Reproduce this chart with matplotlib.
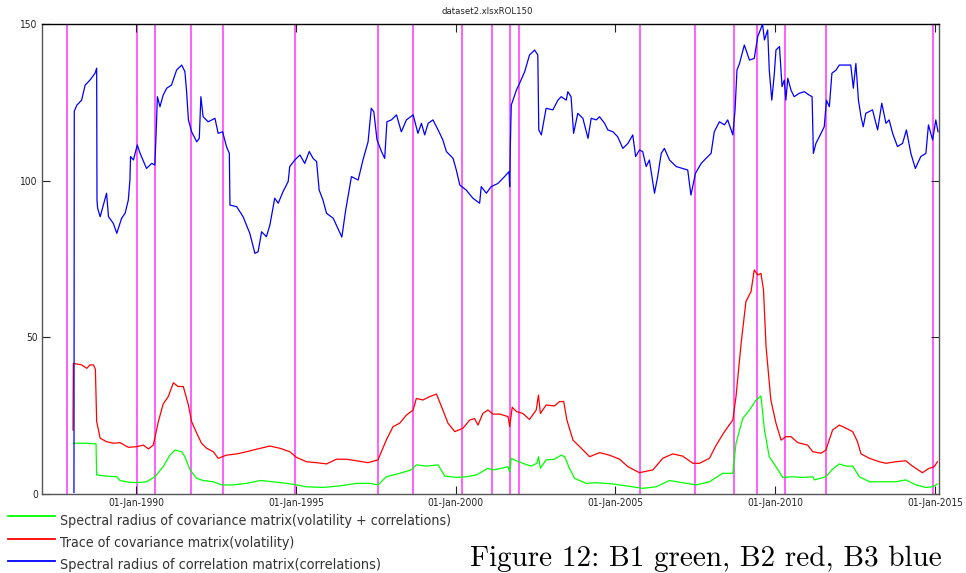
import matplotlib
matplotlib.use("Agg")
import matplotlib.pyplot as plt
from matplotlib import font_manager as fm

# ---------------- data (decimal years, values) ----------------
green_t = [1988.04, 1988.15, 1988.46, 1988.75, 1988.77, 1989.08, 1989.40, 1989.50, 1989.81,
           1990.13, 1990.33, 1990.59, 1990.85, 1991.06, 1991.22, 1991.43, 1991.53, 1991.69,
           1991.90, 1992.10, 1992.42, 1992.68, 1993.04, 1993.46, 1993.88, 1994.29, 1994.71,
           1995.02, 1995.33, 1995.85, 1996.38, 1996.90, 1997.31, 1997.57, 1997.83, 1998.25,
           1998.61, 1998.77, 1999.08, 1999.45, 1999.66, 2000.02, 2000.33, 2000.65, 2001.01,
           2001.17, 2001.43, 2001.64, 2001.69, 2001.74, 2001.90, 2002.10, 2002.36, 2002.54,
           2002.59, 2002.65, 2002.83, 2003.09, 2003.30, 2003.41, 2003.56, 2003.72, 2004.08,
           2004.40, 2004.92, 2005.33, 2005.85, 2006.27, 2006.69, 2007.10, 2007.52, 2007.94,
           2008.35, 2008.67, 2008.77, 2008.98, 2009.19, 2009.40, 2009.55, 2009.66, 2009.81,
           2010.02, 2010.23, 2010.54, 2010.85, 2011.17, 2011.22, 2011.58, 2011.79, 2012.00,
           2012.21, 2012.42, 2012.63, 2012.94, 2013.35, 2013.77, 2014.08, 2014.40, 2014.71,
           2014.92, 2015.07]
green_v = [16.2, 16.2, 16.2, 16.0, 6.1, 5.7, 5.5, 4.3, 3.7,
           3.7, 3.9, 5.5, 8.7, 12.4, 14.0, 13.5, 11.9, 7.7,
           5.0, 4.3, 3.9, 2.9, 2.9, 3.4, 4.3, 3.9, 3.4,
           2.9, 2.3, 2.1, 2.6, 3.4, 3.4, 2.9, 5.5, 6.6,
           7.7, 9.3, 8.9, 9.3, 5.7, 5.3, 5.5, 6.1, 8.2,
           7.7, 8.2, 8.7, 7.1, 11.4, 10.6, 9.8, 8.9, 9.8,
           11.9, 8.2, 10.9, 11.1, 12.4, 11.9, 8.2, 5.0, 3.4,
           3.6, 3.2, 2.6, 1.8, 2.3, 4.3, 3.6, 2.9, 3.9,
           6.6, 6.6, 16.2, 24.1, 26.8, 30.0, 31.3, 20.4, 11.9,
           8.7, 5.3, 5.5, 5.3, 5.5, 4.5, 5.5, 7.9, 9.6,
           8.9, 8.9, 5.5, 3.9, 3.9, 3.9, 4.5, 2.9, 2.1,
           2.3, 3.2]

red_t = [1988.03, 1988.04, 1988.15, 1988.30, 1988.46, 1988.56, 1988.67, 1988.73, 1988.77,
         1988.88, 1989.08, 1989.29, 1989.50, 1989.76, 1990.02, 1990.23, 1990.39, 1990.54,
         1990.70, 1990.85, 1991.01, 1991.17, 1991.32, 1991.48, 1991.64, 1991.74, 1991.90,
         1992.05, 1992.21, 1992.42, 1992.57, 1992.83, 1993.15, 1993.46, 1993.77, 1994.19,
         1994.50, 1994.81, 1995.02, 1995.33, 1995.65, 1995.96, 1996.27, 1996.58, 1996.90,
         1997.26, 1997.57, 1997.83, 1998.04, 1998.25, 1998.46, 1998.67, 1998.77, 1998.98,
         1999.19, 1999.40, 1999.60, 1999.76, 1999.97, 2000.23, 2000.44, 2000.59, 2000.70,
         2000.85, 2001.01, 2001.17, 2001.38, 2001.64, 2001.69, 2001.77, 2001.90, 2002.10,
         2002.31, 2002.52, 2002.59, 2002.65, 2002.83, 2003.09, 2003.25, 2003.38, 2003.48,
         2003.67, 2003.93, 2004.19, 2004.50, 2004.81, 2005.13, 2005.39, 2005.75, 2006.17,
         2006.48, 2006.79, 2007.10, 2007.42, 2007.63, 2007.94, 2008.15, 2008.41, 2008.67,
         2008.77, 2008.93, 2009.08, 2009.24, 2009.34, 2009.45, 2009.55, 2009.63, 2009.71,
         2009.86, 2010.02, 2010.18, 2010.33, 2010.49, 2010.70, 2011.01, 2011.17, 2011.43,
         2011.58, 2011.79, 2012.00, 2012.21, 2012.42, 2012.57, 2012.68, 2012.94, 2013.25,
         2013.46, 2013.77, 2014.08, 2014.29, 2014.60, 2014.81, 2014.97, 2015.07]
red_v = [20.4, 41.7, 41.5, 41.2, 40.1, 41.2, 41.2, 39.8, 23.1,
         17.8, 16.7, 16.2, 16.4, 14.9, 15.1, 15.6, 14.4, 15.6,
         23.1, 28.7, 31.1, 35.5, 34.3, 34.3, 28.4, 23.1, 19.4,
         16.2, 14.6, 13.5, 11.4, 12.4, 12.8, 13.5, 14.3, 15.3,
         14.6, 13.5, 11.7, 10.3, 10.0, 9.6, 11.1, 11.1, 10.6,
         10.0, 10.9, 17.2, 21.5, 22.6, 25.2, 26.8, 30.5, 30.0,
         31.1, 31.9, 26.8, 22.6, 19.9, 21.0, 23.6, 24.1, 22.0,
         25.7, 26.8, 25.5, 25.5, 24.7, 21.5, 27.7, 26.3, 25.7,
         23.8, 26.8, 31.6, 25.7, 28.4, 28.1, 29.5, 29.5, 23.6,
         17.2, 14.6, 11.9, 13.2, 12.4, 11.1, 8.7, 6.8, 7.7,
         11.4, 12.8, 12.1, 9.8, 9.8, 11.4, 15.6, 19.9, 23.6,
         31.1, 48.1, 61.4, 64.6, 71.5, 69.9, 70.4, 65.1, 47.0,
         30.0, 22.6, 17.2, 18.3, 18.3, 16.4, 15.6, 13.5, 13.0,
         14.0, 20.4, 22.0, 21.0, 19.9, 16.7, 12.8, 11.4, 10.3,
         9.8, 10.3, 10.6, 8.9, 6.8, 8.2, 8.7, 10.3]

blue_t = [1988.06, 1988.07, 1988.15, 1988.30, 1988.41, 1988.56, 1988.72, 1988.77, 1988.78,
          1988.80, 1988.88, 1988.98, 1989.08, 1989.14, 1989.29, 1989.40, 1989.55, 1989.66,
          1989.76, 1989.81, 1989.83, 1989.92, 1990.04, 1990.13, 1990.33, 1990.49, 1990.59,
          1990.63, 1990.67, 1990.75, 1990.85, 1990.96, 1991.11, 1991.27, 1991.43, 1991.53,
          1991.58, 1991.64, 1991.74, 1991.90, 1991.98, 1992.03, 1992.10, 1992.26, 1992.47,
          1992.57, 1992.71, 1992.83, 1992.92, 1992.94, 1993.15, 1993.35, 1993.56, 1993.72,
          1993.82, 1993.93, 1994.08, 1994.19, 1994.34, 1994.45, 1994.60, 1994.76, 1994.81,
          1994.97, 1995.13, 1995.28, 1995.42, 1995.54, 1995.65, 1995.73, 1995.85, 1995.96,
          1996.17, 1996.44, 1996.56, 1996.74, 1996.95, 1997.10, 1997.26, 1997.36, 1997.44,
          1997.54, 1997.68, 1997.78, 1997.85, 1997.99, 1998.15, 1998.30, 1998.46, 1998.67,
          1998.82, 1998.93, 1999.03, 1999.14, 1999.29, 1999.45, 1999.60, 1999.71, 1999.92,
          2000.02, 2000.13, 2000.33, 2000.54, 2000.75, 2000.80, 2000.96, 2001.11, 2001.32,
          2001.53, 2001.67, 2001.69, 2001.71, 2001.74, 2001.90, 2002.00, 2002.16, 2002.31,
          2002.47, 2002.57, 2002.60, 2002.68, 2002.83, 2003.04, 2003.20, 2003.30, 2003.46,
          2003.51, 2003.61, 2003.69, 2003.82, 2003.98, 2004.14, 2004.24, 2004.40, 2004.50,
          2004.66, 2004.76, 2004.92, 2005.07, 2005.23, 2005.39, 2005.54, 2005.63, 2005.75,
          2005.85, 2005.96, 2006.06, 2006.22, 2006.32, 2006.43, 2006.53, 2006.69, 2006.90,
          2007.10, 2007.26, 2007.36, 2007.50, 2007.68, 2007.83, 2007.99, 2008.09, 2008.25,
          2008.41, 2008.51, 2008.67, 2008.74, 2008.80, 2008.88, 2009.03, 2009.19, 2009.34,
          2009.45, 2009.55, 2009.60, 2009.66, 2009.76, 2009.81, 2009.89, 2009.97, 2010.02,
          2010.13, 2010.21, 2010.28, 2010.33, 2010.39, 2010.49, 2010.59, 2010.75, 2010.91,
          2011.06, 2011.15, 2011.19, 2011.27, 2011.43, 2011.53, 2011.60, 2011.69, 2011.77,
          2011.90, 2012.00, 2012.21, 2012.36, 2012.44, 2012.52, 2012.60, 2012.68, 2012.75,
          2012.83, 2013.04, 2013.20, 2013.33, 2013.46, 2013.56, 2013.67, 2013.82, 2013.98,
          2014.10, 2014.24, 2014.38, 2014.55, 2014.71, 2014.79, 2014.92, 2015.02, 2015.09]
blue_v = [0.5, 122.2, 124.1, 125.7, 130.5, 132.1, 134.3, 135.9, 93.8,
          91.2, 88.5, 92.2, 96.0, 88.5, 86.4, 83.2, 88.0, 89.6,
          93.8, 100.2, 107.7, 106.6, 111.4, 108.7, 103.9, 105.5, 105.0,
          115.1, 126.8, 123.6, 127.3, 129.5, 130.5, 135.3, 136.9, 134.8,
          128.9, 119.4, 115.6, 112.4, 113.5, 126.8, 120.4, 118.8, 119.9,
          115.1, 115.6, 110.9, 108.7, 92.2, 91.7, 88.5, 83.2, 76.8,
          77.3, 83.7, 82.1, 85.9, 94.4, 92.8, 96.5, 99.7, 104.5,
          106.6, 108.2, 105.5, 109.3, 107.1, 106.1, 97.0, 93.8, 89.6,
          88.0, 82.0, 90.6, 101.3, 100.2, 106.6, 112.4, 123.1, 122.0,
          113.0, 109.3, 107.1, 118.8, 119.4, 121.0, 115.6, 119.4, 121.0,
          115.1, 118.3, 114.6, 118.3, 119.4, 116.2, 113.0, 109.3, 107.1,
          103.4, 98.6, 97.0, 94.4, 92.8, 98.1, 96.0, 98.1, 99.1,
          101.3, 102.9, 98.1, 110.9, 124.1, 128.9, 131.1, 134.8, 140.1,
          141.7, 140.1, 116.2, 114.6, 123.1, 122.6, 125.7, 126.8, 125.7,
          128.4, 126.8, 115.1, 121.5, 119.9, 113.5, 119.9, 119.4, 120.4,
          118.3, 116.2, 115.6, 114.0, 110.3, 111.9, 114.6, 107.7, 109.8,
          109.3, 104.5, 106.6, 96.0, 101.3, 108.7, 110.3, 106.6, 104.5,
          103.9, 103.4, 95.4, 102.3, 105.5, 107.1, 108.7, 115.6, 118.8,
          117.8, 119.4, 114.6, 122.6, 135.3, 137.4, 143.3, 138.5, 139.0,
          146.0, 148.6, 150.0, 144.9, 148.1, 135.3, 125.7, 134.3, 141.7,
          142.8, 130.0, 132.1, 125.7, 132.7, 128.9, 126.8, 127.9, 128.4,
          127.3, 126.8, 108.7, 111.9, 115.1, 117.2, 125.7, 123.6, 134.3,
          135.3, 136.9, 136.9, 136.9, 129.5, 137.4, 125.7, 120.4, 117.2,
          121.5, 122.6, 116.2, 124.7, 118.3, 119.4, 115.1, 110.9, 111.9,
          116.2, 108.7, 103.9, 107.7, 108.7, 117.8, 113.0, 119.4, 115.6]

event_years = [1987.83, 1990.03, 1990.59, 1991.72, 1992.71, 1994.98, 1997.57, 1998.65,
               2000.20, 2001.13, 2001.70, 2001.98, 2005.77, 2007.49, 2008.72, 2009.42,
               2010.29, 2011.59, 2014.93]

tick_years = [1990, 1995, 2000, 2005, 2010, 2015]
tick_labels = ["01-Jan-1990", "01-Jan-1995", "01-Jan-2000", "01-Jan-2005",
               "01-Jan-2010", "01-Jan-2015"]
y_ticks = [0, 50, 100, 150]

legend_labels = ["Spectral radius of covariance matrix(volatility + correlations)",
                 "Trace of covariance matrix(volatility)",
                 "Spectral radius of correlation matrix(correlations)"]
caption = "Figure 12: B1 green, B2 red, B3 blue"
title = "dataset2.xlsxROL150"

# ---------------- font choice ----------------
def find_font():
    cands = []
    for f in fm.fontManager.ttflist:
        fn = f.fname.lower()
        if ("narrow" in fn or "condensed" in fn) and "bold" not in fn and "oblique" not in fn \
                and "italic" not in fn and "mono" not in fn and "serif" not in fn.replace("sans", ""):
            cands.append(f.fname)
    for key in ["liberationsansnarrow-regular", "dejavusanscondensed"]:
        for c in cands:
            if key in c.lower().replace("_", "").replace(" ", ""):
                return c
    return None

narrow_path = find_font()

def fp(size):
    if narrow_path:
        return fm.FontProperties(fname=narrow_path, size=size)
    return fm.FontProperties(family="Liberation Sans", size=size)

# ---------------- figure ----------------
W, H = 966, 573
fig = plt.figure(figsize=(W / 100, H / 100), dpi=100)
ax = fig.add_axes([42 / W, 1 - 494 / H, (939 - 42) / W, (494 - 24) / H])

for yr in event_years:
    ax.axvline(yr, color="#ff33ff", lw=1.1, zorder=1)

ax.plot(green_t, green_v, color="#00ff00", lw=0.9, zorder=3)
ax.plot(red_t, red_v, color="#ff0000", lw=0.9, zorder=3)
ax.plot(blue_t, blue_v, color="#0000ff", lw=0.9, zorder=3)

ax.set_xlim(1987.06, 2015.12)
ax.set_ylim(0, 150)
ax.set_xticks(tick_years)
ax.set_xticklabels(tick_labels)
ax.set_yticks(y_ticks)
ax.set_yticklabels([str(v) for v in y_ticks])
tick_size = 7.3 if narrow_path else 6.8
for lab in ax.get_xticklabels() + ax.get_yticklabels():
    lab.set_fontproperties(fp(tick_size))
ax.tick_params(direction="in", length=6, width=0.8, top=True, right=True,
               colors="#222222", pad=3)
for s in ["left", "bottom", "right"]:
    ax.spines[s].set_color("#555555")
    ax.spines[s].set_linewidth(1.0)
ax.spines["top"].set_color("#000000")
ax.spines["top"].set_linewidth(1.0)

fig.text(487 / W, 1 - 12 / H, title, ha="center", va="center",
         fontproperties=fp(6.8 if narrow_path else 6.5), color="#222222")

# legend below the axes; size chosen so that each text spans its width in the picture
leg_colors = ["#00ff00", "#ff0000", "#0000ff"]
line_y = [516, 539, 561]
base_y = [525, 547, 569]
target_w = [390, 234, 320]
renderer = fig.canvas.get_renderer()
for c, ly, by, lab, tw in zip(leg_colors, line_y, base_y, legend_labels, target_w):
    fig.add_artist(plt.Line2D([8 / W, 55 / W], [1 - ly / H, 1 - ly / H],
                              color=c, lw=1.3, transform=fig.transFigure))
    t = fig.text(60 / W, 1 - by / H, lab, ha="left", va="baseline",
                 fontproperties=fp(12), color="#333333")
    w = t.get_window_extent(renderer=renderer).width
    size = min(13.0, 12 * tw / w)
    t.set_fontproperties(fp(size))

fig.text(470 / W, 1 - 566 / H, caption, ha="left", va="baseline", fontsize=21,
         family=["cmr10", "DejaVu Serif"], color="black")

fig.savefig("out.png", dpi=100)
